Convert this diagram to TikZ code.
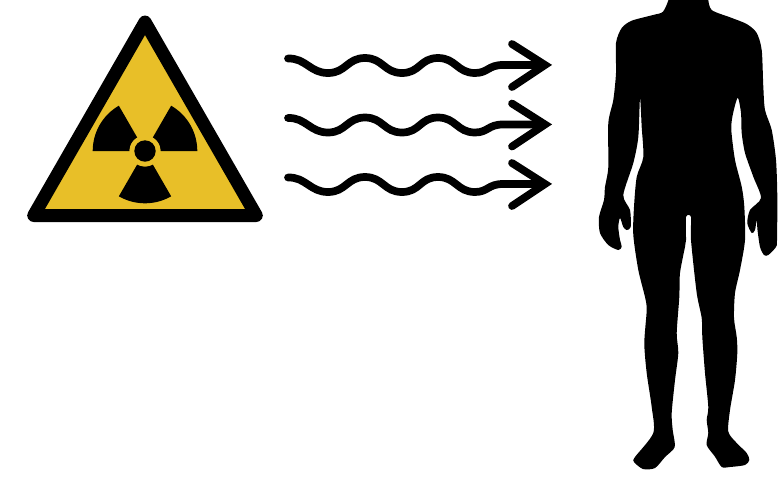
\documentclass[tikz,border=0pt]{standalone}
\definecolor{signyellow}{HTML}{E8BF28}
\tikzset{
  x=0.75pt,y=-0.75pt,
  wave/.style={line width=5.8pt,line cap=round,line join=round,black},
  sector/.style={fill=black,draw=none},
}
\begin{document}
\begin{tikzpicture}
\useasboundingbox (0,0) rectangle (781,476);
% sign
\draw[fill=signyellow,draw=black,line width=9.75pt,line join=round] (145,22) -- (256.3,215.5) -- (33.7,215.5) -- cycle;
\coordinate (c) at (145,151);
\foreach \a in {0,120,240}{
  \fill[sector] ([shift={(\a:15.5*0.75pt)}]c) -- ([shift={(\a:52.3*0.75pt)}]c)
     arc[start angle=\a,end angle=\a+60,radius=52.3*0.75pt]
     -- ([shift={(\a+60:15.5*0.75pt)}]c)
     arc[start angle=\a+60,end angle=\a,radius=15.5*0.75pt] -- cycle;
}
\fill[signyellow] (c) circle[radius=15.5*0.75pt];
\fill[black] (c) circle[radius=10.7*0.75pt];
% wave arrows
\foreach \d in {0,59.5,119}{
  \begin{scope}[yshift=-\d*0.75pt]
    \draw[wave] (288,58.5) .. controls (306,58) and (310,73) .. (328,73)
      .. controls (346,73) and (347,58) .. (365,58)
      .. controls (383,58) and (384,73) .. (402,73)
      .. controls (420,73) and (420,58) .. (438,58)
      .. controls (456,58) and (457,73) .. (475,73)
      .. controls (488,73) and (488,65) .. (503,65)
      -- (542,65);
    \draw[wave,miter limit=4,line join=miter] (512,44) -- (545,65) -- (512,87);
  \end{scope}
}
% body silhouette
\begin{scope}
\clip (0,0) rectangle (781,476);
\fill[black] plot[smooth cycle,tension=0.45] coordinates {
 (708,-14) (708,-2) (711.7,10) (730,17.3) (746.7,24) (756.7,33) (761.7,50) (763.3,86.7) (765,110)
 (771.7,130) (776,160) (777.3,196.7) (777,240) (776,247) (768.3,255) (764,255) (760,247)
 (757.5,230) (756.7,220) (755,230) (751.7,233) (747.3,223) (750,210) (761,198)
 (753.3,176.7) (745,153) (741.7,133) (741,113) (737.7,97.7)
 (732.7,115) (731.3,130) (735,160) (741.7,186.7) (744.3,206.7) (745,240)
 (740,270) (735,293) (734,318) (736.7,337) (737.3,353) (735,380) (730,410) (728.3,431.7)
 (736.7,443) (746.7,453) (749.3,460) (745,465) (730,467) (721.7,467) (715,456.7) (706.7,445)
 (708.3,433) (706.7,420) (708.3,407) (705,373) (702.3,337) (701.7,318) (696.7,293) (691,240)
 (691,217) (686,217) (686,240)
 (685,246.7) (680,273) (679.3,297) (676.7,333) (678.3,353) (675,380) (671.7,413) (672.7,430)
 (674.7,447) (665,457) (655,468) (643,469) (634,462) (635,457) (653.3,433) (651.7,407)
 (646.7,373) (644.3,343) (646.7,310) (645,297) (638.3,270) (633.3,235) (634,207) (636.7,177)
 (643.3,157) (641.7,127) (640,98)
 (638.3,137) (633.3,163) (623.3,195) (630,210) (630.7,227) (626.7,230) (623.3,227) (620,218)
 (618.3,227) (620,240) (621.7,246.7) (618.3,250) (608.3,245) (600,233) (599,217) (604,200)
 (605,187) (608.3,167) (608.3,123) (613.3,100) (616,73) (616,43) (621.7,28) (631.7,20.7)
 (653,15) (663,11.7) (669,-2) (669,-14)
};
\end{scope}
\end{tikzpicture}
\end{document}
